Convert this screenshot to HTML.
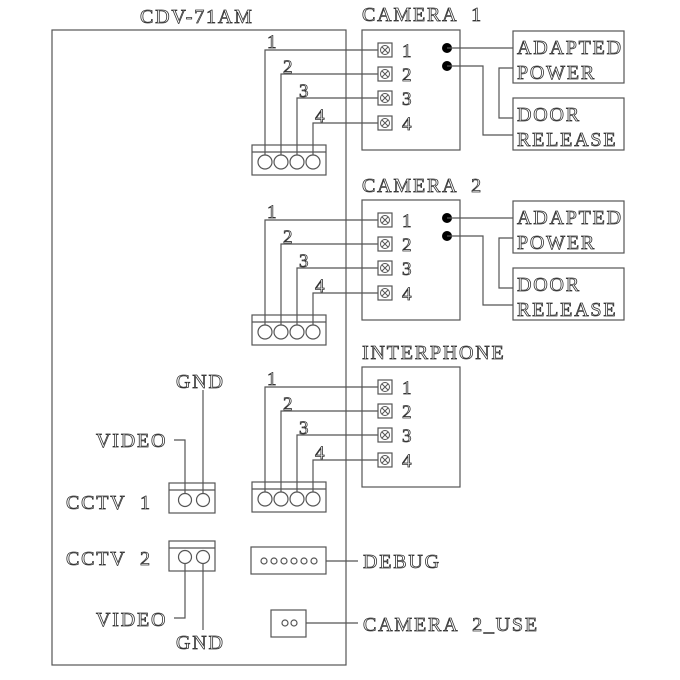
<!DOCTYPE html>
<html><head><meta charset="utf-8"><style>
html,body{margin:0;padding:0;background:#fff}
svg{display:block}
text{font-family:"Liberation Serif",serif;font-size:20px;fill:#fff;stroke:#333;stroke-width:0.8;letter-spacing:1.8px;word-spacing:7px}
.n{font-size:19px;letter-spacing:0}
</style></head><body>
<svg width="680" height="680" viewBox="0 0 680 680" xmlns="http://www.w3.org/2000/svg">
<defs>
<g id="conn" fill="none" stroke="#555" stroke-width="1.2">
  <rect x="252" y="145" width="74" height="30"/>
  <line x1="252" y1="152" x2="326" y2="152"/>
  <circle cx="265" cy="162" r="7"/><circle cx="281" cy="162" r="7"/><circle cx="297" cy="162" r="7"/><circle cx="313" cy="162" r="7"/>
  <polyline points="265,155 265,50 378,50"/>
  <polyline points="281,155 281,74 378,74"/>
  <polyline points="297,155 297,98 378,98"/>
  <polyline points="313,155 313,123 378,123"/>
</g>
<g id="term" fill="none" stroke="#555" stroke-width="1.2">
  <rect x="362" y="30" width="98" height="120"/>
  <rect x="378" y="43" width="14" height="14"/><rect x="378" y="67" width="14" height="14"/>
  <rect x="378" y="91" width="14" height="14"/><rect x="378" y="116" width="14" height="14"/>
  <g stroke-width="1">
  <circle cx="385" cy="50" r="4.5"/><path d="M382,47l6,6M388,47l-6,6"/>
  <circle cx="385" cy="74" r="4.5"/><path d="M382,71l6,6M388,71l-6,6"/>
  <circle cx="385" cy="98" r="4.5"/><path d="M382,95l6,6M388,95l-6,6"/>
  <circle cx="385" cy="123" r="4.5"/><path d="M382,120l6,6M388,120l-6,6"/>
  </g>
</g>
<g id="cam">
  <use href="#term"/>
  <circle cx="447" cy="48" r="5" fill="#000"/><circle cx="447" cy="66" r="5" fill="#000"/>
  <g fill="none" stroke="#555" stroke-width="1.2">
  <line x1="447" y1="48" x2="513" y2="48"/>
  <polyline points="447,66 483,66 483,135 513,135"/>
  <polyline points="513,68 499,68 499,118 513,118"/>
  <rect x="513" y="31" width="111" height="52"/>
  <rect x="513" y="98" width="111" height="52"/>
  </g>
  <text x="517" y="54">ADAPTED</text>
  <text x="517" y="79">POWER</text>
  <text x="517" y="121">DOOR</text>
  <text x="517" y="146">RELEASE</text>
</g>
<g id="nums">
  <text class="n" x="267" y="48">1</text><text class="n" x="283" y="73">2</text>
  <text class="n" x="299" y="97">3</text><text class="n" x="315" y="122">4</text>
  <text class="n" x="402" y="57">1</text><text class="n" x="402" y="81">2</text>
  <text class="n" x="402" y="105">3</text><text class="n" x="402" y="130">4</text>
</g>
</defs>

<rect x="52" y="30" width="294" height="635" fill="none" stroke="#555" stroke-width="1.2"/>
<text x="140" y="23">CDV-71AM</text>

<text x="362" y="21">CAMERA 1</text>
<use href="#cam"/><use href="#conn"/><use href="#nums"/>

<text x="362" y="192">CAMERA 2</text>
<g transform="translate(0,170)"><use href="#cam"/><use href="#conn"/><use href="#nums"/></g>

<text x="362" y="359">INTERPHONE</text>
<g transform="translate(0,337)"><use href="#term"/><use href="#conn"/><use href="#nums"/></g>

<g fill="none" stroke="#555" stroke-width="1.2">
  <rect x="169" y="483" width="46" height="30"/><line x1="169" y1="490" x2="215" y2="490"/>
  <circle cx="185" cy="500" r="6.5"/><circle cx="203" cy="500" r="6.5"/>
  <polyline points="174,440 185,440 185,493"/>
  <line x1="203" y1="390" x2="203" y2="493"/>
  <rect x="169" y="541" width="46" height="30"/><line x1="169" y1="548" x2="215" y2="548"/>
  <circle cx="185" cy="557" r="6.5"/><circle cx="203" cy="557" r="6.5"/>
  <polyline points="185,564 185,618 174,618"/>
  <line x1="203" y1="564" x2="203" y2="630"/>
  <rect x="251" y="547" width="75" height="27"/>
  <circle cx="264" cy="561" r="3"/><circle cx="274" cy="561" r="3"/><circle cx="284" cy="561" r="3"/>
  <circle cx="294" cy="561" r="3"/><circle cx="304" cy="561" r="3"/><circle cx="314" cy="561" r="3"/>
  <line x1="326" y1="561" x2="358" y2="561"/>
  <rect x="271" y="610" width="35" height="27"/>
  <circle cx="285" cy="623" r="3"/><circle cx="294" cy="623" r="3"/>
  <line x1="306" y1="623" x2="358" y2="623"/>
</g>
<text x="176" y="388">GND</text>
<text x="96" y="447">VIDEO</text>
<text x="66" y="509">CCTV 1</text>
<text x="66" y="565">CCTV 2</text>
<text x="96" y="626">VIDEO</text>
<text x="176" y="649">GND</text>
<text x="363" y="568">DEBUG</text>
<text x="363" y="631">CAMERA 2_USE</text>
</svg>
</body></html>
